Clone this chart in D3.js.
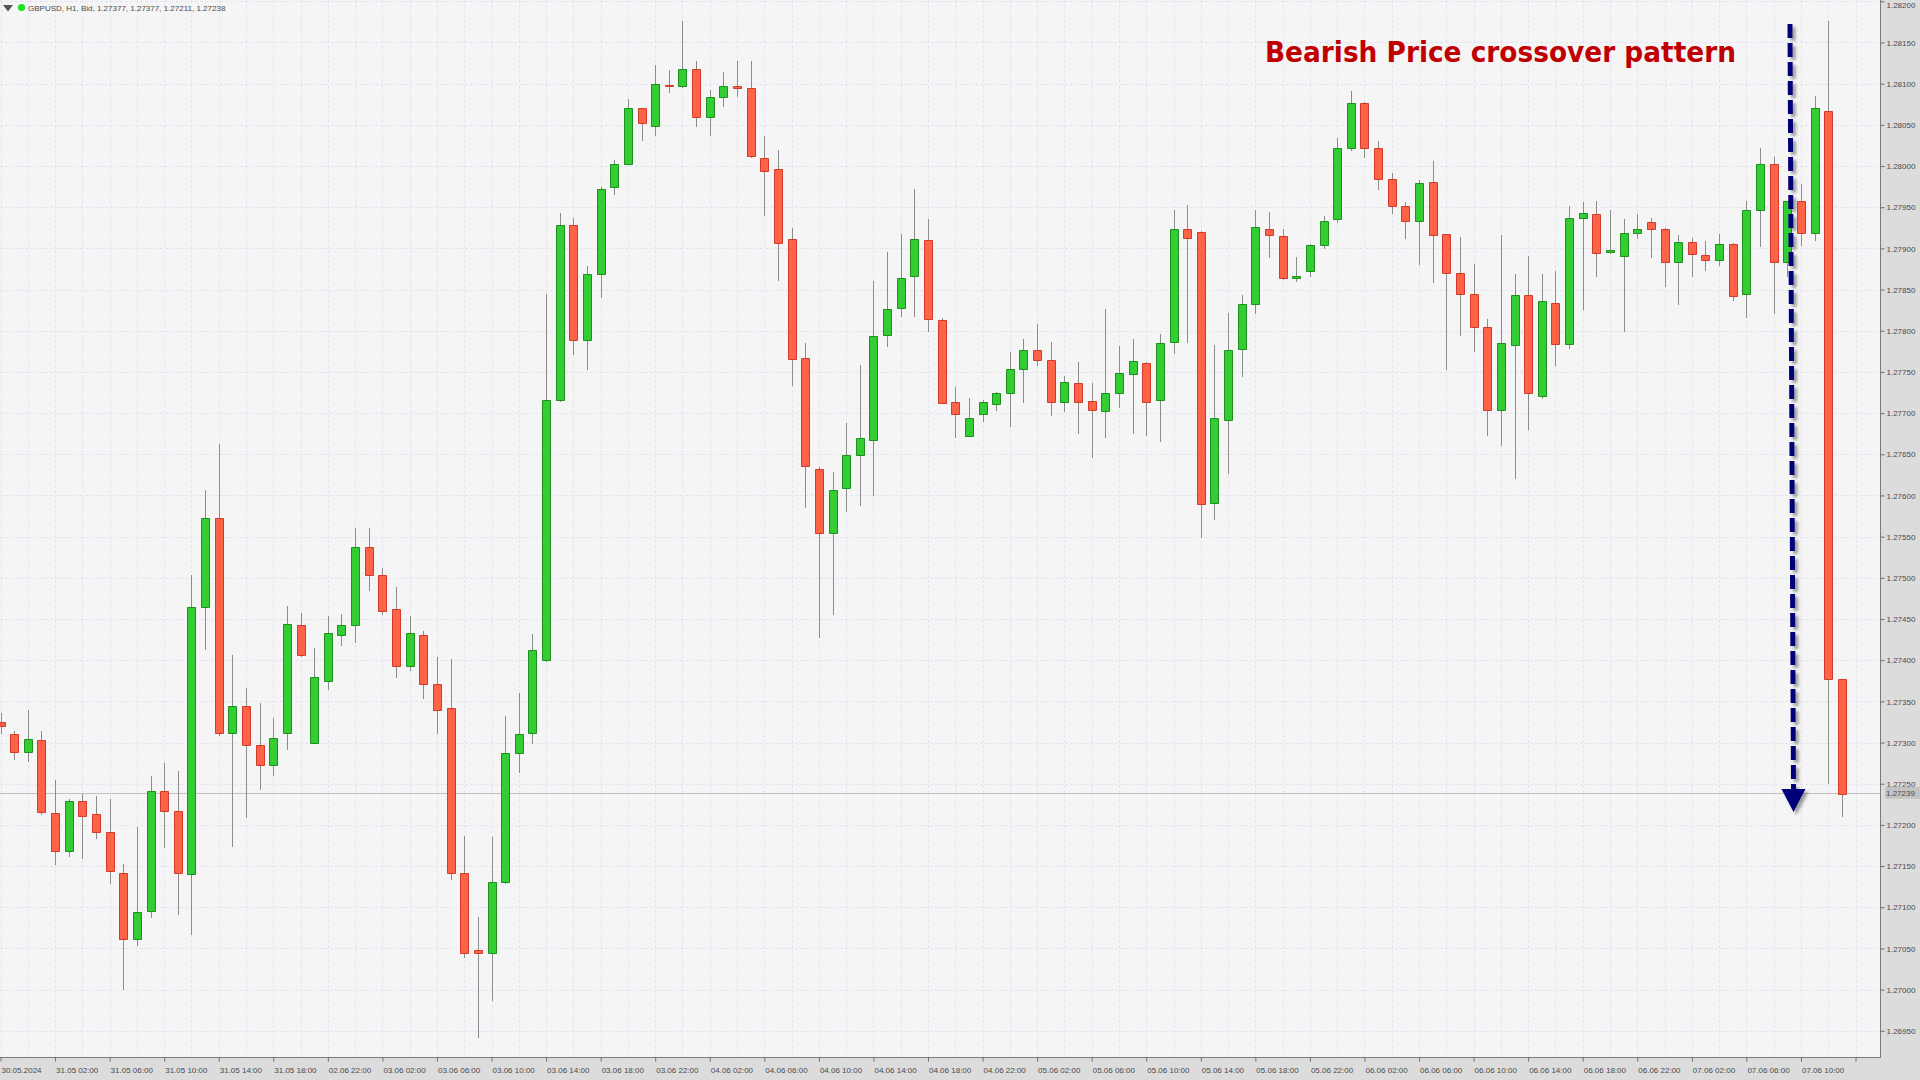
<!DOCTYPE html>
<html><head><meta charset="utf-8">
<script src="https://cdn.jsdelivr.net/npm/d3@7"></script>
<style>html,body{margin:0;padding:0;background:#dcdcdc;overflow:hidden}svg{display:block}</style>
</head><body><svg id="c" width="1920" height="1080"></svg>
<script>
// ---- DATA ----
const opens=[1.27325,1.27310,1.27288,1.27303,1.27214,1.27168,1.27229,1.27213,1.27191,1.27142,1.27062,1.27096,1.27241,1.27217,1.27140,1.27464,1.27573,1.27311,1.27344,1.27297,1.27273,1.27311,1.27443,1.27300,1.27375,1.27431,1.27443,1.27537,1.27504,1.27462,1.27393,1.27431,1.27371,1.27342,1.27142,1.27048,1.27045,1.27131,1.27287,1.27312,1.27400,1.27716,1.27928,1.27789,1.27869,1.27974,1.28002,1.28071,1.28048,1.28098,1.28097,1.28118,1.28060,1.28084,1.28097,1.28095,1.28010,1.27996,1.27911,1.27767,1.27632,1.27554,1.27609,1.27649,1.27667,1.27795,1.27828,1.27866,1.27910,1.27813,1.27714,1.27672,1.27699,1.27711,1.27725,1.27754,1.27777,1.27764,1.27713,1.27736,1.27715,1.27703,1.27724,1.27747,1.27761,1.27716,1.27786,1.27923,1.27920,1.27591,1.27692,1.27778,1.27832,1.27924,1.27915,1.27864,1.27872,1.27904,1.27936,1.28022,1.28076,1.28022,1.27984,1.27952,1.27933,1.27980,1.27917,1.27870,1.27845,1.27805,1.27704,1.27783,1.27844,1.27721,1.27834,1.27784,1.27937,1.27942,1.27896,1.27891,1.27919,1.27932,1.27924,1.27883,1.27908,1.27892,1.27886,1.27905,1.27845,1.27947,1.28003,1.27883,1.27957,1.27919,1.28067,1.27377];
const highs=[1.27336,1.27314,1.27339,1.27314,1.27255,1.27232,1.27237,1.27235,1.27231,1.27153,1.27198,1.27259,1.27275,1.27265,1.27504,1.27607,1.27662,1.27406,1.27366,1.27348,1.27330,1.27466,1.27457,1.27415,1.27454,1.27456,1.27560,1.27561,1.27512,1.27489,1.27454,1.27436,1.27404,1.27401,1.27186,1.27088,1.27185,1.27332,1.27360,1.27432,1.27845,1.27943,1.27937,1.27879,1.27975,1.28007,1.28081,1.28071,1.28123,1.28116,1.28176,1.28127,1.28092,1.28114,1.28128,1.28128,1.28037,1.28019,1.27925,1.27785,1.27635,1.27628,1.27688,1.27758,1.27860,1.27896,1.27918,1.27972,1.27936,1.27815,1.27732,1.27718,1.27716,1.27726,1.27774,1.27790,1.27808,1.27786,1.27745,1.27762,1.27737,1.27827,1.27781,1.27790,1.27762,1.27796,1.27947,1.27953,1.27921,1.27783,1.27821,1.27843,1.27947,1.27944,1.27923,1.27889,1.27905,1.27939,1.28034,1.28091,1.28078,1.28030,1.27991,1.27956,1.27983,1.28006,1.27918,1.27914,1.27881,1.27814,1.27916,1.27869,1.27891,1.27869,1.27873,1.27952,1.27956,1.27958,1.27946,1.27936,1.27942,1.27937,1.27925,1.27916,1.27913,1.27909,1.27918,1.27906,1.27958,1.28022,1.28011,1.27958,1.27978,1.28085,1.28176,1.27377];
const lows=[1.27312,1.27280,1.27278,1.27213,1.27152,1.27162,1.27160,1.27184,1.27129,1.27001,1.27054,1.27088,1.27173,1.27092,1.27068,1.27414,1.27309,1.27174,1.27210,1.27243,1.27261,1.27292,1.27405,1.27299,1.27365,1.27419,1.27422,1.27485,1.27456,1.27379,1.27388,1.27354,1.27311,1.27134,1.27039,1.26942,1.26988,1.27130,1.27264,1.27299,1.27399,1.27715,1.27772,1.27753,1.27841,1.27966,1.28002,1.28031,1.28038,1.28090,1.28096,1.28049,1.28038,1.28073,1.28085,1.28011,1.27941,1.27862,1.27734,1.27586,1.27428,1.27456,1.27581,1.27589,1.27600,1.27781,1.27818,1.27818,1.27800,1.27712,1.27671,1.27672,1.27691,1.27704,1.27684,1.27714,1.27759,1.27698,1.27702,1.27676,1.27647,1.27671,1.27708,1.27676,1.27673,1.27666,1.27773,1.27786,1.27549,1.27572,1.27627,1.27745,1.27821,1.27890,1.27863,1.27860,1.27866,1.27901,1.27932,1.28020,1.28011,1.27972,1.27943,1.27912,1.27881,1.27859,1.27754,1.27795,1.27775,1.27673,1.27661,1.27621,1.27681,1.27718,1.27759,1.27779,1.27827,1.27866,1.27894,1.27800,1.27913,1.27890,1.27854,1.27833,1.27866,1.27874,1.27880,1.27837,1.27817,1.27903,1.27821,1.27866,1.27904,1.27910,1.27251,1.27211];
const closes=[1.27320,1.27288,1.27304,1.27216,1.27168,1.27229,1.27211,1.27191,1.27144,1.27062,1.27094,1.27241,1.27217,1.27142,1.27465,1.27573,1.27311,1.27344,1.27297,1.27273,1.27306,1.27444,1.27406,1.27380,1.27433,1.27443,1.27537,1.27504,1.27460,1.27393,1.27433,1.27371,1.27340,1.27141,1.27045,1.27044,1.27131,1.27287,1.27310,1.27412,1.27716,1.27928,1.27789,1.27869,1.27972,1.28002,1.28071,1.28052,1.28099,1.28097,1.28118,1.28060,1.28084,1.28097,1.28095,1.28012,1.27994,1.27907,1.27766,1.27636,1.27554,1.27607,1.27649,1.27670,1.27794,1.27827,1.27864,1.27911,1.27814,1.27712,1.27699,1.27694,1.27713,1.27724,1.27754,1.27777,1.27764,1.27714,1.27738,1.27714,1.27704,1.27725,1.27749,1.27763,1.27714,1.27785,1.27924,1.27913,1.27590,1.27694,1.27777,1.27832,1.27926,1.27916,1.27864,1.27867,1.27904,1.27933,1.28022,1.28076,1.28022,1.27984,1.27951,1.27933,1.27979,1.27916,1.27870,1.27845,1.27805,1.27704,1.27785,1.27844,1.27725,1.27836,1.27784,1.27937,1.27943,1.27894,1.27898,1.27919,1.27924,1.27924,1.27883,1.27908,1.27893,1.27886,1.27905,1.27842,1.27946,1.28003,1.27883,1.27957,1.27919,1.28071,1.27377,1.27238];
const timeLabels=["30.05.2024","31.05 02:00","31.05 06:00","31.05 10:00","31.05 14:00","31.05 18:00","02.06 22:00","03.06 02:00","03.06 06:00","03.06 10:00","03.06 14:00","03.06 18:00","03.06 22:00","04.06 02:00","04.06 06:00","04.06 10:00","04.06 14:00","04.06 18:00","04.06 22:00","05.06 02:00","05.06 06:00","05.06 10:00","05.06 14:00","05.06 18:00","05.06 22:00","06.06 02:00","06.06 06:00","06.06 10:00","06.06 14:00","06.06 18:00","06.06 22:00","07.06 02:00","07.06 06:00","07.06 10:00",""];
const priceTicks=[1.2695,1.2700,1.2705,1.2710,1.2715,1.2720,1.2725,1.2730,1.2735,1.2740,1.2745,1.2750,1.2755,1.2760,1.2765,1.2770,1.2775,1.2780,1.2785,1.2790,1.2795,1.2800,1.2805,1.2810,1.2815,1.2820];
const headerText="GBPUSD, H1, Bid, 1.27377, 1.27377, 1.27211, 1.27238";
const currentPrice=1.27239;
const titleText="Bearish Price crossover pattern";
const barsPerLabel=4;

// ---- LAYOUT ----
const W=1920,H=1080,plotR=1880,plotB=1057;
const svg=d3.select("#c");
const x=d3.scaleLinear().domain([0,136]).range([0.5,1855.5]);
const y=d3.scaleLinear().domain([1.2820,1.2695]).range([1.3,1030.8]);
const font="'Liberation Sans', Arial, sans-serif";

const defs=svg.append("defs");
defs.append("clipPath").attr("id","plotClip").append("rect").attr("x",0).attr("y",0).attr("width",plotR).attr("height",plotB);
const f=defs.append("filter").attr("id","shadow").attr("x","-50%").attr("y","-5%").attr("width","200%").attr("height","110%");
f.append("feDropShadow").attr("dx",3).attr("dy",3).attr("stdDeviation",1.6).attr("flood-color","#555").attr("flood-opacity",0.55);

svg.append("rect").attr("width",W).attr("height",H).attr("fill","#dcdcdc");
svg.append("rect").attr("width",plotR).attr("height",plotB).attr("fill","#f5f5f5");

const plot=svg.append("g").attr("clip-path","url(#plotClip)");

// grid
const gridIdx=d3.range(0,137,2);
plot.append("g").selectAll("line").data(gridIdx).join("line")
 .attr("x1",d=>Math.round(x(d))+0.5).attr("x2",d=>Math.round(x(d))+0.5)
 .attr("y1",0).attr("y2",plotB)
 .attr("stroke","#e3e3f3").attr("stroke-width",1).attr("stroke-dasharray","3,2");
plot.append("g").selectAll("line").data(priceTicks).join("line")
 .attr("x1",0).attr("x2",plotR)
 .attr("y1",d=>Math.round(y(d))+0.5).attr("y2",d=>Math.round(y(d))+0.5)
 .attr("stroke","#e3e3f3").attr("stroke-width",1).attr("stroke-dasharray","3,2");

// current price line
plot.append("line").attr("x1",0).attr("x2",plotR)
 .attr("y1",Math.round(y(currentPrice))+0.5).attr("y2",Math.round(y(currentPrice))+0.5)
 .attr("stroke","#c2c2ba").attr("stroke-width",1);

// candles
const bars=opens.map((o,i)=>({i,o,h:highs[i],l:lows[i],c:closes[i]}));
const cg=plot.append("g");
cg.selectAll("line.w").data(bars).join("line").attr("class","w")
 .attr("x1",d=>Math.round(x(d.i))+0.5).attr("x2",d=>Math.round(x(d.i))+0.5)
 .attr("y1",d=>Math.round(y(d.h))).attr("y2",d=>Math.round(y(d.l))+1)
 .attr("stroke","#8c8c8c").attr("stroke-width",1);
cg.selectAll("path.b").data(bars).join("path").attr("class","b")
 .attr("d",d=>{
   const cx=Math.round(x(d.i));
   const t=Math.round(y(Math.max(d.o,d.c)))+0.5;
   const b=Math.round(y(Math.min(d.o,d.c)))+0.5;
   return `M${cx-4+0.5},${t}h8V${b}h-8Z`;
 })
 .attr("fill",d=>d.c>=d.o?"#32cd32":"#ff6347")
 .attr("stroke",d=>d.c>=d.o?"#1f8f1f":"#d23c2c")
 .attr("stroke-width",1);

// borders
svg.append("line").attr("x1",plotR+0.5).attr("x2",plotR+0.5).attr("y1",0).attr("y2",plotB+1).attr("stroke","#7a7a7a");
svg.append("line").attr("x1",0).attr("x2",plotR+1).attr("y1",plotB+0.5).attr("y2",plotB+0.5).attr("stroke","#7a7a7a");

// right price axis
const ya=svg.append("g").attr("transform",`translate(${plotR+0.5},0)`)
 .call(d3.axisRight(y).tickValues(priceTicks).tickFormat(d3.format(".5f")).tickSize(4).tickPadding(2));
ya.select(".domain").remove();
ya.selectAll(".tick line").attr("stroke","#6e6e6e");
ya.selectAll(".tick text").attr("font-family",font).attr("font-size",8).attr("fill","#4a4a4a")
 .attr("dy",d=>d===1.2820?"0.8em":"0.33em");

// current price tag
const cy=y(currentPrice);
svg.append("rect").attr("x",1885).attr("y",cy-6).attr("width",35).attr("height",12).attr("fill","#c3c3c3");
svg.append("text").attr("x",1886).attr("y",cy+3).attr("font-family",font).attr("font-size",8).attr("fill","#4a4a4a").text(d3.format(".5f")(currentPrice));

// bottom time axis
const tickIdx=timeLabels.map((_,k)=>k*barsPerLabel);
const xa=svg.append("g").attr("transform",`translate(0,${plotB+0.5})`)
 .call(d3.axisBottom(x).tickValues(tickIdx).tickFormat((d,k)=>timeLabels[k]).tickSize(4).tickPadding(6));
xa.select(".domain").remove();
xa.selectAll(".tick line").attr("stroke","#6e6e6e");
xa.selectAll(".tick text").attr("font-family",font).attr("font-size",8).attr("fill","#4a4a4a")
 .attr("text-anchor","start").attr("dx",0.5);

// header
svg.append("path").attr("d","M3,5H13L8,11.5Z").attr("fill","#555");
svg.append("circle").attr("cx",21.5).attr("cy",7.5).attr("r",3.6).attr("fill","#1ee01e");
svg.append("text").attr("x",28).attr("y",10.5).attr("font-family",font).attr("font-size",8).attr("fill","#4a4a4a").text(headerText);

// title
svg.append("text").attr("x",1265).attr("y",61.5)
 .attr("font-family","'DejaVu Sans', Verdana, sans-serif").attr("font-weight","bold").attr("font-size",28.5)
 .attr("textLength",471).attr("lengthAdjust","spacingAndGlyphs")
 .attr("fill","#c00000").text(titleText);

// dashed arrow
const ag=svg.append("g").attr("filter","url(#shadow)");
ag.append("line").attr("x1",1790).attr("y1",24).attr("x2",1793.5).attr("y2",790)
 .attr("stroke","#00007a").attr("stroke-width",5).attr("stroke-dasharray","14,5");
ag.append("path").attr("d","M1781.5,789L1805.5,789L1793.5,812Z").attr("fill","#00007a");
</script></body></html>
